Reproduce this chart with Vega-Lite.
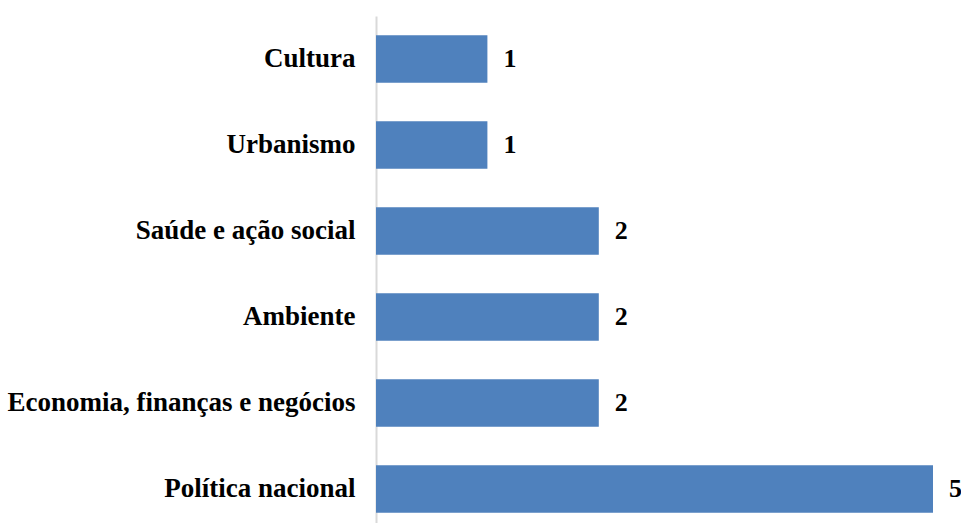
{
  "$schema": "https://vega.github.io/schema/vega-lite/v6.json",
  "width": 557,
  "height": 507,
  "autosize": {"type": "none"},
  "padding": {"left": 376, "top": 16, "right": 28, "bottom": 0},
  "background": "white",
  "config": {"view": {"stroke": null}},
  "data": {"values": [
    {"tema": "Cultura", "n": 1},
    {"tema": "Urbanismo", "n": 1},
    {"tema": "Saúde e ação social", "n": 2},
    {"tema": "Ambiente", "n": 2},
    {"tema": "Economia, finanças e negócios", "n": 2},
    {"tema": "Política nacional", "n": 5}
  ]},
  "encoding": {
    "y": {"field": "tema", "type": "nominal", "sort": null,
      "scale": {"range": [0, 516], "paddingInner": 0.45, "paddingOuter": 0.225},
      "axis": {"title": null, "ticks": false, "labelFont": "Liberation Serif", "labelFontWeight": "bold",
        "labelFontSize": 27, "labelColor": "black", "labelPadding": 21, "domainColor": "#d9d9d9", "domainWidth": 2, "labelLimit": 400}},
    "x": {"field": "n", "type": "quantitative", "scale": {"domain": [0, 5]}, "axis": null}
  },
  "layer": [
    {"mark": {"type": "bar", "color": "#4F81BD"}},
    {"mark": {"type": "text", "align": "left", "dx": 16, "font": "Liberation Serif", "fontWeight": "bold", "fontSize": 26, "color": "black"},
     "encoding": {"text": {"field": "n"}}}
  ]
}
